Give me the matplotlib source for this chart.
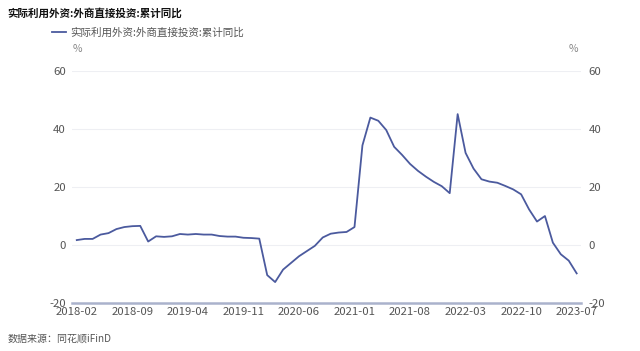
import matplotlib
matplotlib.use('Agg')
import matplotlib.pyplot as plt
import numpy as np
import pandas as pd

plt.rcParams['font.family'] = ['Noto Sans CJK SC', 'DejaVu Sans']

# categories: every month from 2018-02 to 2022-12, then the 2023 releases
months = [str(p) for p in pd.period_range('2018-02', '2022-12', freq='M')]
months += ['2023-01', '2023-02', '2023-04', '2023-06', '2023-07']

# 累计同比 (%)
values = [1.7, 2.1, 2.1, 3.6, 4.1, 5.5, 6.2, 6.5, 6.6, 1.2,
          3.0, 2.8, 3.0, 3.8, 3.6, 3.8, 3.6, 3.6, 3.1, 2.9,
          2.9, 2.5, 2.4, 2.2, -10.4, -12.8, -8.5, -6.2, -3.9, -2.1,
          -0.3, 2.6, 3.9, 4.3, 4.5, 6.2, 34.4, 44.0, 42.9, 39.7,
          33.9, 31.1, 28.0, 25.6, 23.6, 21.8, 20.3, 17.9, 45.2, 31.8,
          26.4, 22.7, 21.9, 21.5, 20.4, 19.2, 17.5, 12.3, 8.1, 10.0,
          0.8, -3.2, -5.4, -9.8]

xtick_labels = ['2018-02', '2018-09', '2019-04', '2019-11', '2020-06',
                '2021-01', '2021-08', '2022-03', '2022-10', '2023-07']
yticks = [-20, 0, 20, 40, 60]

title = '实际利用外资:外商直接投资:累计同比'
series_name = '实际利用外资:外商直接投资:累计同比'
source = '数据来源：同花顺iFinD'

line_color = '#4b5a9e'
txt_color = '#555555'

fig = plt.figure(figsize=(6.4, 3.51), dpi=100)
ax = fig.add_axes([0.1125, 0.137, 0.796, 0.66])

x = np.arange(len(values))
ax.plot(x, values, color=line_color, lw=1.3, label=series_name)

ax.set_ylim(-20, 60)
ax.set_xlim(-0.6, len(values) - 1 + 0.6)
ax.set_yticks(yticks)
ax.set_yticklabels([str(v) for v in yticks])
tick_pos = [months.index(m) for m in xtick_labels]
ax.set_xticks(tick_pos)
ax.set_xticklabels(xtick_labels)

for v in yticks[1:]:
    ax.axhline(v, color='#eeeff3', lw=0.8, zorder=0)

for s in ['top', 'right', 'left']:
    ax.spines[s].set_visible(False)
ax.spines['bottom'].set_color('#aab2cc')
ax.spines['bottom'].set_linewidth(1.8)

ax.tick_params(axis='x', length=0, pad=3.2, labelsize=8.2, labelcolor=txt_color)
ax.tick_params(axis='y', length=0, pad=4.5, labelsize=8.2, labelcolor=txt_color)

ax2 = ax.twinx()
ax2.set_ylim(ax.get_ylim())
ax2.set_yticks(yticks)
ax2.set_yticklabels([str(v) for v in yticks])
for s in ['top', 'right', 'left', 'bottom']:
    ax2.spines[s].set_visible(False)
ax2.tick_params(axis='y', length=0, pad=5, labelsize=8.2, labelcolor=txt_color)

fig.text(0.012, 0.963, title, fontsize=7.6, fontweight='bold', color='#111111',
         ha='left', va='center')
fig.legend(loc='center left', bbox_to_anchor=(0.081, 0.906), frameon=False,
           handlelength=1.3, handletextpad=0.45, fontsize=7.6, labelcolor=txt_color,
           borderaxespad=0, borderpad=0)
fig.text(0.114, 0.86, '%', fontsize=7.5, color='#888888', ha='left', va='center')
fig.text(0.903, 0.86, '%', fontsize=7.5, color='#888888', ha='right', va='center')
fig.text(0.012, 0.035, source, fontsize=7.2, color=txt_color, ha='left', va='center')

fig.savefig('out.png', dpi=100)
